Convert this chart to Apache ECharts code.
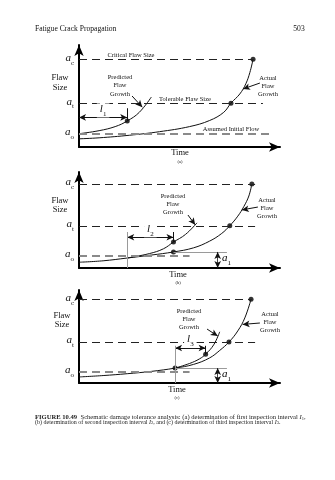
<!DOCTYPE html>
<html>
<head>
<meta charset="utf-8">
<script src="https://cdn.jsdelivr.net/npm/echarts@6/dist/echarts.min.js"></script>
<style>
  html, body { margin: 0; background: #fff; }
  #chart { width: 335px; height: 480px; }
</style>
</head>
<body>
<div id="chart"></div>
<script>
// flaw size levels a_o, a_t, a_c for each panel
const levelSubs = ["o", "t", "c"];
const levelsA = [13, 43, 86];
const levelsB = [12.5, 44, 87.5];
const levelsC = [12, 44, 90];
// time where each dashed level line stops
const levelEndsA = [96, 91.5, 86.6];
const levelEndsB = [55, 87.6, 87.6];
const levelEndsC = [55, 87.6, 86];

// [time, flaw size]
const actualA = [[0, 8], [10, 9], [25, 11.5], [40, 15], [55, 20], [65, 26], [72, 34], [75.6, 43], [80, 52], [83, 62], [85, 73], [86.6, 86]];
const predictedA = [[0, 13], [10, 16], [18, 20], [24, 25.5], [30, 34], [36, 49]];
const dotsA = [[24, 25.5], [75.6, 43], [86.6, 86]];

const actualB = [[0, 6], [12, 7.5], [24, 10.4], [36, 13.5], [47, 16.7], [57, 21], [65, 28], [71, 36], [75, 44], [79, 54], [82, 64], [84.5, 75], [86, 87.5]];
const predictedB = [[24, 10.4], [35, 15], [42, 20], [47, 27], [53, 35], [58.7, 47]];
const dotsB = [[47, 16.7], [47, 27], [75, 44], [86, 87.5]];

const actualC = [[0, 6.5], [12, 8], [24, 10], [36, 12.5], [47.8, 16], [57, 20], [65, 27], [70, 35], [74.6, 44], [79, 56], [82.5, 70], [85.6, 90]];
const predictedC = [[47.8, 16], [55, 21], [60, 26], [63, 31], [67, 41], [70, 55]];
const dotsC = [[47.8, 16], [63, 31], [74.6, 44], [85.6, 90]];

// inspection interval: start, end, arrow height, tick top
const intervalA = [0, 24, 29, 38];
const intervalB = [24, 47, 32, 37.5];
const intervalC = [47.8, 63, 37.6, 40];
const intervalSubs = ["1", "2", "3"];
// a1 at the inspection: time, size
const a1B = [47, 16.7];
const a1C = [47.8, 16];

const serif = "'Liberation Serif', 'DejaVu Serif', serif";
const subRich = {
  a: { fontFamily: serif, fontStyle: "italic", fontSize: 11, padding: [0, 0, 3, 0], verticalAlign: "bottom", color: "#111" },
  s: { fontFamily: serif, fontSize: 7, verticalAlign: "bottom", color: "#111" }
};

const grids = [
  { left: 79, top: 45, width: 201, height: 102 },
  { left: 79, top: 172, width: 201, height: 96 },
  { left: 79, top: 290, width: 201, height: 93 }
];

const panels = [
  { levels: levelsA, ends: levelEndsA, actual: actualA, predicted: predictedA, dots: dotsA, interval: intervalA,
    arrows: [[[26.4, 50], [31.5, 39]], [[90, 62.7], [81.6, 56.9]]] },
  { levels: levelsB, ends: levelEndsB, actual: actualB, predicted: predictedB, dots: dotsB, interval: intervalB, a1: a1B,
    arrows: [[[54.2, 55.2], [57.8, 45]], [[89, 63.5], [81, 60.5]]] },
  { levels: levelsC, ends: levelEndsC, actual: actualC, predicted: predictedC, dots: dotsC, interval: intervalC, a1: a1C,
    arrows: [[[63.7, 58], [69, 50.5]], [[90, 64.5], [81.4, 63]]] }
];

function segs(gi, pairs, lineStyle, symbol, label) {
  return {
    type: "line", xAxisIndex: gi, yAxisIndex: gi, data: [], silent: true,
    markLine: {
      silent: true, animation: false, symbol: symbol, symbolSize: [5, 7],
      lineStyle: lineStyle,
      label: label || { show: false },
      data: pairs.map((p) => [{ coord: p[0] }, { coord: p[1] }])
    }
  };
}

const series = [];
panels.forEach((p, gi) => {
  // dashed level lines
  p.levels.forEach((lvl, k) => {
    const grey = k === 0;
    series.push(segs(gi, [[[0, lvl], [p.ends[k], lvl]]],
      { color: grey ? "#8a8a8a" : "#222", width: grey ? 1.8 : 1.1, type: [8, 5] }, "none"));
  });
  series.push({ type: "line", xAxisIndex: gi, yAxisIndex: gi, data: p.actual, smooth: 0.4, symbol: "none",
    lineStyle: { color: "#111", width: 1 } });
  series.push({ type: "line", xAxisIndex: gi, yAxisIndex: gi, data: p.predicted, smooth: 0.4, symbol: "none",
    lineStyle: { color: "#111", width: 1 } });
  series.push({ type: "scatter", xAxisIndex: gi, yAxisIndex: gi, data: p.dots, symbolSize: 5,
    itemStyle: { color: "#000" } });

  const iv = p.interval;
  // interval arrow with l label
  series.push(segs(gi, [[[iv[0], iv[2]], [iv[1], iv[2]]]], { color: "#111", width: 1, type: "solid" }, ["arrow", "arrow"], {
    show: true, position: "middle", formatter: "{a|l}{s|" + intervalSubs[gi] + "}", backgroundColor: "#fff",
    padding: [0, 3], distance: 0, rich: subRich
  }));
  // tick at end of interval
  const endDot = p.dots[gi === 0 ? 0 : 1];
  series.push(segs(gi, [[[iv[1], iv[3]], [iv[1], endDot[1]]]], { color: "#111", width: 1, type: "solid" }, "none"));
  if (gi > 0) {
    // vertical marker at start of interval
    series.push(segs(gi, [[[iv[0], 0], [iv[0], iv[3]]]], { color: "#9a9a9a", width: 1, type: "solid" }, "none"));
    // a1 size marker
    series.push(segs(gi, [[[p.a1[0], p.a1[1]], [73.6, p.a1[1]]]], { color: "#9a9a9a", width: 1, type: "solid" }, "none"));
    series.push(segs(gi, [[[69, p.a1[1]], [69, 0]]], { color: "#111", width: 0.8, type: "solid" }, ["arrow", "arrow"]));
  }
  // label pointer arrows
  series.push(segs(gi, p.arrows, { color: "#111", width: 1, type: "solid" }, ["none", "arrow"]));
});

const axisLine = { show: true, symbol: ["none", "arrow"], symbolSize: [7, 11], lineStyle: { color: "#000", width: 2 } };

function txt(x, y, text, size, align) {
  return {
    type: "text", x: x, y: y, silent: true,
    style: { text: text, fontFamily: serif, fontSize: size, fill: "#111", align: align || "center", verticalAlign: "middle" }
  };
}

function capRich(fs) {
  return {
    b: { fontWeight: "bold", fontFamily: serif, fontSize: fs, verticalAlign: "bottom" },
    t: { fontFamily: serif, fontSize: fs, verticalAlign: "bottom" },
    i: { fontStyle: "italic", fontFamily: serif, fontSize: fs, verticalAlign: "bottom" },
    u: { fontFamily: serif, fontSize: 4.5, verticalAlign: "bottom" }
  };
}

const graphic = [
  txt(35, 29, "Fatigue Crack Propagation", 7.6, "left"),
  txt(299, 29, "503", 7.6),
  // panel a
  txt(131, 55, "Critical Flaw Size", 6.5),
  txt(60, 78, "Flaw", 8.5), txt(60, 88, "Size", 8.5),
  txt(120, 77, "Predicted", 6.5), txt(120, 85.5, "Flaw", 6.5), txt(120, 94, "Growth", 6.5),
  txt(185, 99, "Tolerable Flaw Size", 6.5),
  txt(231, 129, "Assumed Initial Flow", 6.5),
  txt(268, 78, "Actual", 6.5), txt(268, 86, "Flaw", 6.5), txt(268, 94, "Growth", 6.5),
  txt(180, 153, "Time", 8.5), txt(180, 162, "(a)", 4.5),
  // panel b
  txt(60, 201, "Flaw", 8.5), txt(60, 210, "Size", 8.5),
  txt(173, 196, "Predicted", 6.5), txt(173, 204, "Flaw", 6.5), txt(173, 212, "Growth", 6.5),
  txt(267, 200, "Actual", 6.5), txt(267, 208, "Flaw", 6.5), txt(267, 216, "Growth", 6.5),
  txt(178, 275, "Time", 8.5), txt(178, 283, "(b)", 4.5),
  // panel c
  txt(62, 316, "Flaw", 8.5), txt(62, 325, "Size", 8.5),
  txt(189, 311, "Predicted", 6.5), txt(189, 319, "Flaw", 6.5), txt(189, 327, "Growth", 6.5),
  txt(270, 314, "Actual", 6.5), txt(270, 322, "Flaw", 6.5), txt(270, 330, "Growth", 6.5),
  txt(177, 390, "Time", 8.5), txt(177, 398, "(c)", 4.5),
  // a1 labels
  { type: "text", x: 222, y: 260, silent: true, style: { text: "{a|a}{s|1}", rich: subRich, verticalAlign: "middle" } },
  { type: "text", x: 222, y: 376, silent: true, style: { text: "{a|a}{s|1}", rich: subRich, verticalAlign: "middle" } },
  // caption
  { type: "text", x: 35, y: 415, silent: true, style: {
    text: "{b|FIGURE 10.49} {t|Schematic damage tolerance analysis: (a) determination of first inspection interval }{i|I}{u|1}{t|,}",
    fill: "#222", verticalAlign: "middle", rich: capRich(6.6) } },
  { type: "text", x: 35, y: 422, silent: true, style: {
    text: "{t|(b) determination of second inspection interval }{i|I}{u|2}{t|, and (c) determination of third inspection interval }{i|I}{u|3}{t|.}",
    fill: "#222", verticalAlign: "middle", rich: capRich(6.0) } }
];

const chart = echarts.init(document.getElementById("chart"));
chart.setOption({
  animation: false,
  backgroundColor: "#fff",
  grid: grids,
  xAxis: grids.map((g, i) => ({
    type: "value", gridIndex: i, min: 0, max: 100,
    axisLine: axisLine, axisTick: { show: false }, axisLabel: { show: false }, splitLine: { show: false }
  })),
  yAxis: panels.map((p, i) => ({
    type: "value", gridIndex: i, min: 0, max: 100,
    axisLine: axisLine, axisTick: { show: false }, splitLine: { show: false },
    axisLabel: {
      show: true, margin: 5, customValues: p.levels,
      formatter: (v) => "{a|a}{s|" + levelSubs[p.levels.indexOf(v)] + "}",
      rich: subRich
    }
  })),
  series: series,
  graphic: graphic
});
</script>
</body>
</html>
